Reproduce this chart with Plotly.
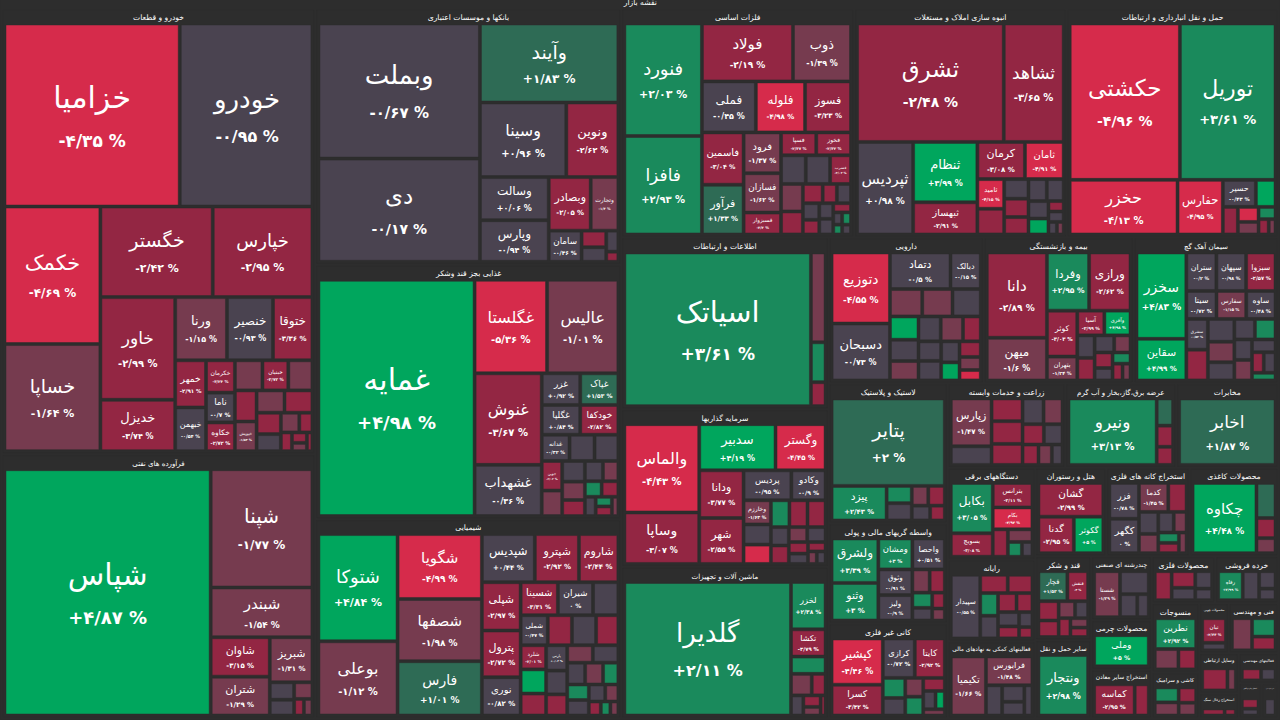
import math
import plotly.graph_objects as go

ROOT = "نقشه بازار"

# sectors in the order they are laid out, with their area on the map (px / 100)
sector_names = [
    "خودرو و قطعات", "فرآورده های نفتی", "بانکها و موسسات اعتباری", "غذایی بجز قند وشکر",
    "شیمیایی", "فلزات اساسی", "انبوه سازی املاک و مستغلات", "حمل و نقل انبارداری و ارتباطات",
    "اطلاعات و ارتباطات", "سرمایه گذاریها", "ماشین آلات و تجهیزات", "دارویی",
    "بیمه و بازنشستگی", "سیمان آهک گچ", "لاستیک و پلاستیک", "واسطه گریهای مالی و پولی",
    "کانی غیر فلزی", "زراعت و خدمات وابسته", "عرضه برق،گاز،بخار و آب گرم", "مخابرات",
    "دستگاههای برقی", "رایانه", "فعالیتهای کمکی به نهادهای مالی", "هتل و رستوران",
    "استخراج کانه های فلزی", "محصولات کاغذی", "قند و شکر", "سایر حمل و نقل",
    "چندرشته ای صنعتی", "محصولات چرمی", "استخراج سایر معادن", "محصولات فلزی",
    "خرده فروشی", "منسوجات", "کاشی و سرامیک", "محصولات چوبی",
    "فنی و مهندسی", "وسایل ارتباطی", "استخراج زغال سنگ", "فعالیتهای مهندسی",
    "انتشار، چاپ و تکثیر", "سایر محصولات کانی",
]
sector_areas = [
    1408, 835, 789, 783, 614, 536, 490, 488, 358, 329, 316, 228, 220, 213,
    168, 120, 114, 100, 94, 87, 81, 72, 68, 63, 74, 79, 47, 44, 39, 30,
    30, 30, 30, 33, 22, 15, 25, 16, 10, 12, 8, 6,
]

# tiles: (symbol, tile area px/100, change %); "" = tile too small to carry a name
auto = [("خزامیا", 309, -4.35), ("خودرو", 234, -0.95), ("خکمک", 127, -4.69), ("خساپا", 99, -1.64),
        ("خگستر", 98, -2.42), ("خپارس", 87, -2.95), ("خاور", 74, -2.99), ("خدیزل", 37, -3.74),
        ("ورنا", 31.5, -1.15), ("خنصیر", 28, -0.93), ("ختوقا", 24, -3.36), ("خمهر", 14, -2.91),
        ("خبهمن", 13, -0.54), ("خکرمان", 9, -3.24), ("ناما", 8.3, -0.7), ("خکاوه", 8, -2.72),
        ("خبنیان", 7.5, -2.72), ("خپویش", 6.2, -1.53), ("", 8, -1.7), ("", 6.5, -2.2), ("", 6, -1.5),
        ("", 6, -3.1), ("", 7, -1.4), ("", 5, -2.6), ("", 4, -0.8), ("", 3.5, -1.6), ("", 2.5, -2.9),
        ("", 2, -3.3), ("", 1.5, -2.5), ("", 1.2, -1.2), ("", 1, -2.8)]
oil = [("شپاس", 502, 4.87), ("شپنا", 119, -1.77), ("شبندر", 50, -1.54), ("شاوان", 23, -3.15),
       ("شتران", 22.7, -1.29), ("شبریز", 19, -1.31), ("", 4.2, -0.5), ("", 3.8, -0.6), ("", 3, -1.4),
       ("", 1.6, -3.5), ("", 1.4, -1.5)]
banks = [("وبملت", 213.5, -0.67), ("دی", 163, -0.17), ("وآیند", 107, 1.83), ("وسینا", 63, 0.96),
         ("ونوین", 38, -2.62), ("وسالت", 29, 0.06), ("وپارس", 28, -0.94), ("وبصادر", 22, -2.05),
         ("وتجارت", 14.5, -1.4), ("سامان", 10, -0.46), ("", 4, -2.8), ("", 3.5, -0.5), ("", 2.5, -0.3),
         ("", 1.2, -3.0)]
food = [("غمایه", 354, 4.98), ("غگلستا", 65, -5.36), ("عالیس", 64, -1.01), ("غنوش", 59, -3.67),
        ("غشهداب", 33, -0.36), ("غزر", 11.7, 0.92), ("غپاک", 11.6, 1.53), ("غگلپا", 11, 0.84),
        ("خودکفا", 10.9, -2.82), ("غدانه", 7, -0.32), ("", 6.3, -0.4), ("", 6, -0.6), ("جوین", 5.8, -2.02),
        ("", 5, -1.6), ("", 4.5, -0.5), ("", 4, -1.8), ("", 3.5, -2.9), ("", 3.5, -0.7), ("", 3, -1.3),
        ("", 2.5, 2.8), ("", 2.5, -2.4), ("", 2, -0.9), ("", 1.5, 3.5), ("", 1.5, -2.2), ("", 1.2, -1.1)]
chem = [("شتوکا", 76, 4.84), ("بوعلی", 52.6, -1.12), ("شگویا", 49, -4.99), ("شصفها", 47, -1.98),
        ("فارس", 41, 1.01), ("شپدیس", 22.8, 0.44), ("شپترو", 19, -2.92), ("شاروم", 17, -2.44),
        ("شپلی", 16.8, -2.97), ("پترول", 16.2, -2.72), ("نوری", 13.3, -0.82), ("شسینا", 11, -3.31),
        ("شیران", 10.4, 0), ("", 7.5, -0.6), ("شملی", 7.3, -0.47), ("", 6.5, -2.8), ("", 6.5, -0.4),
        ("", 6, -3.0), ("شلرد", 5.5, -2.01), ("", 5.5, 4.0), ("", 5, -2.5), ("پارس", 4.8, 0.03),
        ("", 4.5, -0.7), ("", 4, -3.2), ("", 4, -1.5), ("", 4, -0.5), ("", 3.5, -0.3), ("", 3.5, -1.4),
        ("", 3, 3.2), ("", 3, 2.9), ("", 3, -0.6), ("", 2.5, -0.8), ("", 2, -1.6), ("", 1.5, -2.7),
        ("", 1.2, 3.5), ("", 1, -1.2)]
metals = [("فنورد", 80, 2.03), ("فافزا", 70, 2.93), ("فولاد", 48.3, -2.19), ("ذوب", 30.8, -1.39),
          ("فملی", 25.2, -0.45), ("فلوله", 23, -4.98), ("فسوز", 21.5, -3.23), ("فاسمین", 20, -3.04),
          ("فرآور", 19, 1.33), ("فرود", 14, -1.37), ("فسازان", 13.5, -1.62), ("فسبزوار", 7.5, -3.3),
          ("فسپا", 7.4, -2.37), ("فخوز", 7.3, -2.32), ("", 6.5, -0.6), ("", 6.4, -0.5), ("فسرب", 5.5, -2.02),
          ("", 5.5, -1.6), ("", 4.6, -2.9), ("", 3.5, -3.1), ("", 2.5, -3.0), ("", 2.5, -0.7), ("", 2.5, -0.4),
          ("", 2.2, -2.6), ("", 2, -0.5), ("", 2, -0.8), ("", 1.5, -2.8), ("", 1, -0.3), ("", 1, 2.8),
          ("", 0.8, 3.3), ("", 0.8, -0.5)]
estate = [("ثشرق", 164, -2.48), ("ثشاهد", 67, -3.65), ("ثپردیس", 49, 0.98), ("ثنظام", 36.6, 3.99),
          ("ثبهساز", 19.5, -2.91), ("کرمان", 16.7, -3.08), ("ثامان", 13.6, -4.91), ("ثامید", 7.5, -4.15),
          ("", 6.5, -3.2), ("", 4.5, -0.6), ("", 4.2, -2.4), ("", 4, -3.0), ("", 3.8, -0.4), ("", 3.5, -0.5),
          ("", 3.3, -0.8), ("", 3, 4.5), ("", 1.5, -3.3), ("", 1.5, -0.6), ("", 1, -0.5), ("", 0.8, -1.4)]
transport = [("حکشتی", 166, -4.96), ("توریل", 144, 3.61), ("حخزر", 56.7, -4.13), ("حفارس", 23.8, -4.95),
             ("حسیر", 8.6, -0.43), ("", 5.1, 4.6), ("", 4, -2.6), ("", 3, -4.2), ("", 2.5, -1.5),
             ("", 2, 3.0), ("", 1.5, -3.5), ("", 1, -1.2)]
ict = [("اسیاتک", 294, 3.61), ("", 13.5, -1.6), ("", 6, 2.6), ("", 3.6, -2.9)]
invest = [("والماس", 60, -4.43), ("وساپا", 35, -3.07), ("سدبیر", 32, 4.19), ("وگستر", 21, -4.45),
          ("ودانا", 19.2, -3.77), ("شهر", 18.5, -2.55), ("پردیس", 13, -0.95), ("وکادو", 9.3, -0.9),
          ("وخارزم", 6, -1.63), ("", 5, -0.6), ("", 4.8, -4.5), ("", 4.5, 3.3), ("", 4.4, -3.1),
          ("", 4.4, -2.8), ("", 3, -0.7), ("", 3, -2.9), ("", 2.5, -1.6), ("", 2.5, -0.5), ("", 2, -3.0),
          ("", 1.8, -0.6), ("", 1.5, -2.7), ("", 1, -1.3), ("", 1, -0.5)]
machinery = [("گلدیرا", 224, 2.11), ("لخزر", 16.5, 2.38), ("تکشا", 9.5, -3.79), ("", 6, 2.9),
             ("", 4.5, -1.2), ("", 3, -3.2), ("", 2.5, -0.6), ("", 2, -2.8), ("", 1.5, -1.4), ("", 1, -3.5)]
pharma = [("دتوزیع", 37.5, -4.55), ("دسبحان", 30, -0.73), ("دتماد", 20, -0.5), ("دبالک", 10, -0.15),
          ("", 8, -1.6), ("", 7.5, -1.4), ("", 7, -0.6), ("", 6, 4.6), ("", 5.5, -0.5), ("", 5, -1.5),
          ("", 5, -0.7), ("", 5, -1.7), ("", 4, -2.9), ("", 4, -0.4), ("", 4, -0.5), ("", 3.5, -0.6),
          ("", 3, 4.2), ("", 3, -2.8), ("", 2.5, -1.5), ("", 2, -4.5)]
insurance = [("دانا", 46, -2.89), ("میهن", 23, -1.6), ("وفردا", 22, 2.95), ("ورازی", 21.6, -2.62),
             ("کوثر", 12.5, -3.03), ("بتهران", 6.5, -1.24), ("آسیا", 6, -2.99), ("وآفری", 5.8, 4.98),
             ("", 3.5, -0.6), ("", 3.5, -2.9), ("", 3, -0.5), ("", 2.5, -1.5), ("", 2.5, -3.1),
             ("", 2, -0.7), ("", 1.8, 3.5), ("", 1.5, -2.6), ("", 1.2, -1.3)]
cement = [("سخزر", 35.7, 4.83), ("سقاین", 17.2, 4.99), ("ستران", 9.6, -0.2), ("سپهان", 9.5, -0.98),
          ("سبزوا", 9.4, -2.57), ("سیتا", 7, -0.72), ("سفارس", 6.9, -1.15), ("ساوه", 6.8, -0.48),
          ("سشرق", 5.5, -0.52), ("", 5.5, -2.9), ("", 5, -0.6), ("", 4.5, -1.5), ("", 4, -0.4),
          ("", 3.5, -0.5), ("", 3.5, 3.0), ("", 3, -0.6), ("", 3, -1.4), ("", 2.5, -0.5), ("", 2, -2.7),
          ("", 2, -0.4), ("", 1.5, 2.5)]
plastic = [("پتایر", 91, 2.0), ("پیزد", 17.5, 2.43), ("", 4, 3.0), ("", 4, -0.5), ("", 3, -1.5),
           ("", 3, -2.8), ("", 2.5, -0.6), ("", 2, -3.1)]
finance = [("ولشرق", 20.7, 3.39), ("وثنو", 17.5, 3.0), ("ومشان", 10.5, 3.0), ("واحصا", 10, 0.51),
           ("وثوق", 8.7, -0.91), ("ولیز", 8.6, -0.9), ("", 4, -1.6), ("", 3.5, -2.8), ("", 3, 3.0),
           ("", 2.5, -0.5), ("", 2, -2.7), ("", 1.5, -1.4)]
minerals = [("کپشیر", 21, -4.46), ("کسرا", 14, -3.42), ("کرازی", 11.2, -0.72), ("کایتا", 10.5, -2.92),
            ("", 4, 2.4), ("", 3.5, -0.6), ("", 3, -1.6), ("", 3, 2.1), ("", 2.5, -2.7), ("", 2, -0.5),
            ("", 1.5, 4.4), ("", 1.2, -1.4)]
agri = [("زپارس", 18, -1.47), ("", 7, -0.6), ("", 6.5, -2.9), ("", 6.5, -2.9), ("", 6, -3.0),
        ("", 5, -0.5), ("", 4.5, -1.5), ("", 4, -2.8), ("", 3.5, -0.4), ("", 3, -3.1), ("", 2.5, -1.4),
        ("", 2, -0.6)]
power = [("ونیرو", 59, 3.13), ("", 4.5, 1.8), ("", 3.5, -2.9), ("", 3, -2.7)]
telecom = [("اخابر", 67, 1.87)]
electric = [("بکابل", 20.4, 3.05), ("بسویچ", 9.5, -3.08), ("بترانس", 9.4, -3.11), ("بکام", 8.4, -4.94),
            ("", 4, -2.8), ("", 3, -1.3), ("", 2, 2.9), ("", 1.5, -0.6)]
computer = [("سپیدار", 18.6, -0.55), ("", 5, -3.0), ("", 4.5, -2.8), ("", 4, 3.0), ("", 4, -0.6),
            ("", 3.5, -2.6), ("", 3, -3.2), ("", 3, -0.6), ("", 2.5, -2.9), ("", 2, -0.5), ("", 1.5, -2.7)]
support = [("تکیمیا", 17, -1.66), ("فرابورس", 11, -1.48), ("", 4, -0.6), ("", 3, -0.5), ("", 2.5, -0.4),
           ("", 2, -0.7)]
hotel = [("گشان", 21.4, -2.99), ("گدنا", 12.6, -2.95), ("گکوثر", 10.5, 5.0)]
mining = [("فزر", 10, -0.78), ("کگهر", 9.6, 0), ("کدما", 8, -1.45), ("", 5, -2.9), ("", 4, -0.6),
          ("", 3.5, -1.5), ("", 3, -0.5), ("", 2.5, -1.6), ("", 2, 3.0), ("", 2, -2.7), ("", 1.5, -1.3)]
paper = [("چکاوه", 47, 4.48), ("", 7, 1.7), ("", 4, -2.8), ("", 3, -1.4)]
sugar = [("قچار", 7.8, 1.53), ("قنقش", 5.6, -3.0), ("", 3.5, -2.9), ("", 3, -2.6), ("", 2.5, -1.5),
         ("", 2, -0.6), ("", 2, -2.8), ("", 1.5, -1.3), ("", 1.5, -2.9)]
other_transport = [("ونتجار", 30.5, 2.98)]
diversified = [("شستا", 9, -1.29), ("", 5, -0.6), ("", 3, -0.5), ("", 2, -0.7)]
leather = [("وملی", 17.8, 5.0)]
other_mining = [("کماسه", 11.5, -2.95), ("", 4, -2.8)]
metal_products = [("", 5, -2.9), ("", 4, -3.0), ("", 3, -0.6), ("", 3, -0.5), ("", 2, -0.7)]
retail = [("رفاه", 7.5, 2.99), ("", 5, -0.6), ("", 3, -0.5), ("", 2, -0.5)]
textiles = [("نطرین", 10.6, 2.92), ("", 4, -1.5), ("", 3, -2.8)]
ceramics = [("", 4, 2.8), ("", 3.5, -1.6), ("", 3, -2.9), ("", 2.5, -1.3)]
wood = [("نیان", 6.5, -2.44), ("", 2, -0.5)]
engineering = [("", 6, -1.6), ("", 4, 3.0), ("", 3, -2.8)]
comm_devices = [("", 6, -2.8), ("", 2, -1.4)]
coal = [("", 4, -3.0), ("", 2, -2.6)]
eng_services = [("", 4, -3.1), ("", 3, -0.5)]
printing = [("", 3, -2.9), ("", 2, -0.6)]
other_minerals = [("", 2.5, -0.5)]

sector_tiles = [auto, oil, banks, food, chem, metals, estate, transport, ict, invest, machinery,
                pharma, insurance, cement, plastic, finance, minerals, agri, power, telecom,
                electric, computer, support, hotel, mining, paper, sugar, other_transport,
                diversified, leather, other_mining, metal_products, retail, textiles, ceramics,
                wood, engineering, comm_devices, coal, eng_services, printing, other_minerals]

FONT = "DejaVu Sans"
BG = "#2d2d2d"
GRAY = "#4a4350"
REDS = ["#763b4f", "#932643", "#d62b4b"]
GREENS = ["#2e6b55", "#1a8a5c", "#00a65d"]
FA_DIGITS = str.maketrans("0123456789.", "۰۱۲۳۴۵۶۷۸۹/")
SHIFT = 5  # the map starts slightly above the window, as in the source screenshot


def tile_color(p):
    a = abs(p)
    if a < 1:
        return GRAY
    shades = REDS if p < 0 else GREENS
    if a <= 2:
        return shades[0]
    if a < 3.9:
        return shades[1]
    return shades[2]


def pct_text(p):
    s = f"{abs(p):.2f}".rstrip("0").rstrip(".")
    sign = "+" if p > 0 else ("-" if p < 0 else "")
    return "\u200e" + sign + s.translate(FA_DIGITS) + " %"


ids, labels, parents, values, colors, texts, sizes = [ROOT], [ROOT], [""], [0], [BG], [ROOT], [11]
px_per_unit = 1280 * 720 / sum(sector_areas)

for name, area, tiles in zip(sector_names, sector_areas, sector_tiles):
    ids.append(name)
    labels.append(name)
    parents.append(ROOT)
    values.append(0)
    colors.append(BG)
    texts.append(name)
    sizes.append(11)
    k = area / sum(t[1] for t in tiles)
    for i, (sym, size, chg) in enumerate(sorted(tiles, key=lambda t: -t[1])):
        v = size * k
        fs = max(7, min(30, 4.5 + 0.135 * math.sqrt(v * px_per_unit)))
        pf = max(6, round(0.55 * fs + 1))
        ids.append(f"{name}/{i}")
        labels.append(sym or name)
        parents.append(name)
        values.append(v)
        colors.append(tile_color(chg))
        texts.append(f"{sym}<br><span style='font-size:{pf}px'><b>{pct_text(chg)}</b></span>" if sym else "")
        sizes.append(round(fs))

fig = go.Figure(go.Treemap(
    ids=ids,
    labels=labels,
    parents=parents,
    values=values,
    branchvalues="remainder",
    sort=False,
    text=texts,
    textinfo="text",
    textposition="middle center",
    textfont=dict(family=FONT, size=sizes, color="white"),
    marker=dict(colors=colors, line=dict(width=0.5, color=BG), depthfade=False,
                pad=dict(t=15, l=3, r=3, b=3)),
    tiling=dict(packing="squarify", squarifyratio=1, pad=3),
    pathbar=dict(visible=False),
    hoverinfo="skip",
))

fig.update_layout(
    width=1280,
    height=720 + SHIFT,
    margin=dict(l=0, r=0, t=0, b=0),
    paper_bgcolor=BG,
    hovermode=False,
    font=dict(family=FONT, color="white"),
)

fig.write_html(
    "out.html",
    config={"displayModeBar": False, "staticPlot": True},
    post_script=(
        "document.body.style.margin='0';"
        "document.body.style.background='" + BG + "';"
        "document.body.style.overflow='hidden';"
        "document.getElementById('{plot_id}').style.marginTop='-" + str(SHIFT) + "px';"
    ),
)
